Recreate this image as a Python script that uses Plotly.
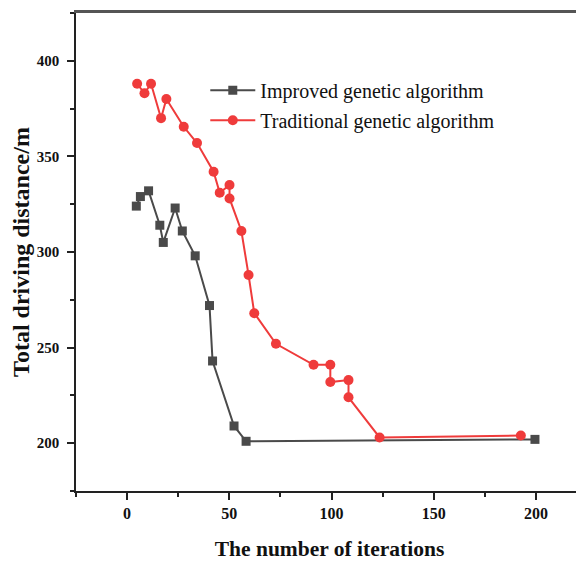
import plotly.graph_objects as go

# Improved genetic algorithm
imp_x = [4.5, 6.5, 10.5, 16, 17.7, 23.5, 27, 33.3, 40.3, 41.8, 52.3, 58.2, 199.5]
imp_y = [324, 329, 332, 314, 305, 323, 311, 298, 272, 243, 209, 201, 202]

# Traditional genetic algorithm
tra_x = [4.9, 8.5, 11.7, 16.6, 19.2, 27.7, 34.2, 42.3, 45.3, 50.1, 50.1, 55.9, 59.4, 62.2,
         72.8, 91.2, 99.4, 99.4, 108.3, 108.3, 123.5, 192.6]
tra_y = [388, 383, 388, 370, 380, 365.5, 357, 342, 331, 335, 328, 311, 288, 268,
         252, 241, 241, 232, 233, 224, 203, 204]

x_ticks = [0, 50, 100, 150, 200]
y_ticks = [200, 250, 300, 350, 400]

GRAY = "#4a4a4a"
RED = "#ef3b3b"
FONT = "Liberation Serif"

fig = go.Figure()
fig.add_trace(go.Scatter(
    x=imp_x, y=imp_y, mode="lines+markers", name="Improved genetic algorithm",
    legendgroup="a",
    line=dict(color=GRAY, width=2),
    marker=dict(symbol="square", size=9, color=GRAY)))
fig.add_trace(go.Scatter(
    x=tra_x, y=tra_y, mode="lines+markers", name="Traditional genetic algorithm",
    legendgroup="b",
    line=dict(color=RED, width=2),
    marker=dict(symbol="circle", size=10, color=RED)))

fig.update_layout(
    width=576, height=558,
    margin=dict(l=68, r=1, t=5, b=75),
    paper_bgcolor="white", plot_bgcolor="white",
    font=dict(family=FONT, color="#111"),
    showlegend=True,
    legend=dict(x=0.255, y=0.879, xanchor="left", yanchor="top",
                font=dict(family=FONT, size=20, color="#111"),
                bgcolor="rgba(0,0,0,0)", traceorder="grouped",
                tracegroupgap=1, itemwidth=45),
    xaxis=dict(range=[-25, 223], tickvals=x_ticks, ticks="outside", ticklen=7,
               tickwidth=1.5, tickcolor="#222", automargin=False,
               showline=True, linecolor="#222", linewidth=1.5, mirror=False,
               showgrid=False, zeroline=False,
               tickfont=dict(family=FONT, size=16, weight="bold", color="#111"),
               minor=dict(tickvals=[-25, 25, 75, 125, 175], ticks="outside", ticklen=4,
                          tickwidth=1.5, tickcolor="#222"),
               title=dict(text="The number of iterations",
                          font=dict(family=FONT, size=21.5, weight="bold", color="#111"),
                          standoff=20)),
    yaxis=dict(range=[175, 425], tickvals=y_ticks, ticks="outside", ticklen=7,
               tickwidth=1.5, tickcolor="#222", automargin=False,
               showline=True, linecolor="#222", linewidth=1.5,
               showgrid=False, zeroline=False, ticklabelstandoff=5,
               tickfont=dict(family=FONT, size=15, weight="bold", color="#111"),
               minor=dict(tickvals=[175, 225, 275, 325, 375, 425], ticks="outside", ticklen=4,
                          tickwidth=1.5, tickcolor="#222"),
               title=dict(text="Total driving distance/m",
                          font=dict(family=FONT, size=24, weight="bold", color="#111"),
                          standoff=4)),
    xaxis2=dict(overlaying="x", side="top", range=[-25, 223], showline=True,
                linecolor="#555", linewidth=2.5, showticklabels=False, ticks="",
                showgrid=False, zeroline=False, automargin=False),
)
# invisible trace so the top frame line is drawn
fig.add_trace(go.Scatter(x=[None], y=[None], xaxis="x2", showlegend=False, hoverinfo="skip"))

fig.write_html("out.html")
